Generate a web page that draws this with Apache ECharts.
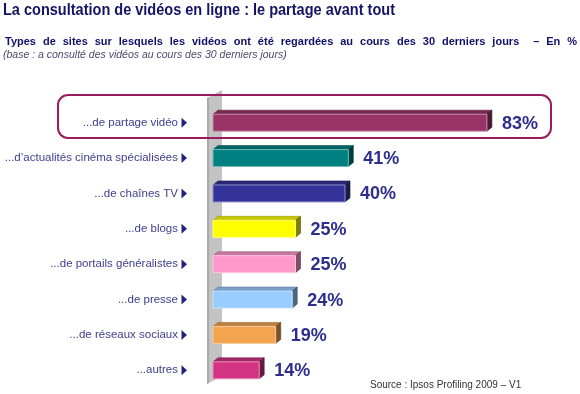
<!DOCTYPE html>
<html>
<head>
<meta charset="utf-8">
<script src="https://cdn.jsdelivr.net/npm/echarts@6/dist/echarts.min.js"></script>
<style>
  html, body { margin: 0; padding: 0; background: #ffffff; }
  #chart { width: 580px; height: 394px; }
</style>
</head>
<body>
<div id="chart"></div>
<script>
// ---- Data ----
const categories = [
  '...de partage vidéo',
  '...d\u2019actualités cinéma spécialisées',
  '...de chaînes TV',
  '...de blogs',
  '...de portails généralistes',
  '...de presse',
  '...de réseaux sociaux',
  '...autres'
];
const values = [83, 41, 40, 25, 25, 24, 19, 14];
const barColors = ['#993366', '#008080', '#333399', '#FFFF00', '#FF99CC', '#99CCFF', '#F2A44E', '#D33382'];
const titleText = 'La consultation de vidéos en ligne : le partage avant tout';
const subtitleWords = ['Types', 'de', 'sites', 'sur', 'lesquels', 'les', 'vidéos', 'ont', 'été', 'regardées', 'au', 'cours', 'des', '30', 'derniers', 'jours', '\u2013', 'En', '%'];
const baseText = '(base : a consulté des vidéos au cours des 30 derniers jours)';
const sourceText = 'Source : Ipsos Profiling 2009 \u2013 V1';

// ---- helpers ----
function shade(hex, f) {
  const n = parseInt(hex.slice(1), 16);
  let r = (n >> 16) & 255, g = (n >> 8) & 255, b = n & 255;
  if (f < 1) { r *= f; g *= f; b *= f; }
  else { const t = f - 1; r += (255 - r) * t; g += (255 - g) * t; b += (255 - b) * t; }
  return 'rgb(' + Math.round(r) + ',' + Math.round(g) + ',' + Math.round(b) + ')';
}

const FONT = '"Liberation Sans", Arial, Helvetica, sans-serif';
const cv = document.createElement('canvas').getContext('2d');

// title (slightly condensed, as in the original)
const titleFont = 'bold 16px ' + FONT;
cv.font = titleFont;
const titleScale = (395 - 3) / cv.measureText(titleText).width;

// justified subtitle layout
const subFont = 'bold 11px ' + FONT;
cv.font = subFont;
const widths = subtitleWords.map(w => cv.measureText(w).width);
const sumW = widths.reduce((a, b) => a + b, 0);
const lineLeft = 5, lineRight = 577;
const gapUnits = subtitleWords.length; // one extra gap after "jours"
const gap = (lineRight - lineLeft - sumW) / gapUnits;
const subtitleGraphics = [];
let cx = lineLeft;
subtitleWords.forEach((w, i) => {
  subtitleGraphics.push({
    type: 'text', x: cx, y: 42,
    style: { text: w, font: subFont, fill: '#10106a', verticalAlign: 'middle' }
  });
  cx += widths[i] + gap * (w === 'jours' ? 2 : 1);
});

const chart = echarts.init(document.getElementById('chart'), null, { renderer: 'canvas' });

const option = {
  backgroundColor: '#ffffff',
  animation: false,
  grid: { left: 213, right: 37, top: 105, bottom: 6 },
  xAxis: { type: 'value', min: 0, max: 100, show: false },
  yAxis: {
    type: 'category',
    data: categories,
    inverse: true,
    axisLine: { show: false },
    axisTick: { show: false },
    splitLine: { show: false },
    axisLabel: {
      margin: 35,
      fontFamily: FONT,
      fontSize: 11.5,
      color: '#40408f'
    }
  },
  graphic: [
    {
      type: 'text', x: 3, y: 11, scaleX: titleScale,
      style: { text: titleText, font: titleFont, fill: '#141466', verticalAlign: 'middle' }
    },
    ...subtitleGraphics,
    {
      type: 'text', x: 3, y: 55,
      style: { text: baseText, font: 'italic 10.5px ' + FONT, fill: '#4a4a70', verticalAlign: 'middle' }
    },
    {
      type: 'text', x: 370, y: 385,
      style: { text: sourceText, font: '10px ' + FONT, fill: '#333333', verticalAlign: 'middle' }
    },
    {
      type: 'rect', z: 100,
      shape: { x: 58, y: 95, width: 493, height: 43, r: 10 },
      style: { fill: 'none', stroke: '#9a1c5c', lineWidth: 2 }
    }
  ],
  series: [
    {
      name: 'wall',
      type: 'custom',
      silent: true,
      z: 1,
      data: [[0, 0]],
      encode: { x: 0, y: 1 },
      renderItem: function (params, api) {
        const cs = params.coordSys;
        const x0 = api.coord([0, 0])[0];
        const top = cs.y, bot = cs.y + cs.height;
        return {
          type: 'group',
          children: [
            {
              type: 'polygon',
              shape: { points: [[x0 - 6, top - 7], [x0 + 9, top - 15], [x0 + 9, bot - 12], [x0 - 6, bot - 4]] },
              style: { fill: '#c3c3c3' }
            },
            {
              type: 'polygon',
              shape: { points: [[x0 - 6, top - 7], [x0 - 4, top - 8], [x0 - 4, bot - 5], [x0 - 6, bot - 4]] },
              style: { fill: '#a9a9a9' }
            }
          ]
        };
      }
    },
    {
      name: 'values',
      type: 'custom',
      z: 5,
      data: values.map((v, i) => [i, v]),
      encode: { x: 1, y: 0 },
      renderItem: function (params, api) {
        const idx = api.value(0);
        const v = api.value(1);
        const s = api.coord([0, idx]);
        const e = api.coord([v, idx]);
        const bandH = api.size([0, 1])[1];
        const h = bandH * 0.48;
        const dx = 5, dy = 4;
        const x0 = s[0], x1 = e[0], y0 = s[1] - h / 2;
        const c = barColors[idx];
        return {
          type: 'group',
          children: [
            {
              type: 'polygon',
              shape: { points: [[x0 - 31.5, s[1] - 5], [x0 - 26, s[1]], [x0 - 31.5, s[1] + 5]] },
              style: { fill: '#22227a' }
            },
            {
              type: 'polygon',
              shape: { points: [[x0, y0], [x0 + dx, y0 - dy], [x1 + dx, y0 - dy], [x1, y0]] },
              style: { fill: shade(c, 0.78), stroke: shade(c, 0.6), lineWidth: 0.6 }
            },
            {
              type: 'polygon',
              shape: { points: [[x1, y0], [x1 + dx, y0 - dy], [x1 + dx, y0 + h - dy], [x1, y0 + h]] },
              style: { fill: shade(c, 0.5), stroke: shade(c, 0.35), lineWidth: 0.6 }
            },
            {
              type: 'rect',
              shape: { x: x0, y: y0, width: x1 - x0, height: h },
              style: { fill: c, stroke: shade(c, 1.45), lineWidth: 1 }
            },
            {
              type: 'text',
              x: x1 + 15, y: s[1] + 1,
              style: {
                text: v + '%', font: 'bold 18px ' + FONT, fill: '#2e2e8c',
                verticalAlign: 'middle', align: 'left'
              }
            }
          ]
        };
      }
    }
  ]
};

chart.setOption(option);
</script>
</body>
</html>
